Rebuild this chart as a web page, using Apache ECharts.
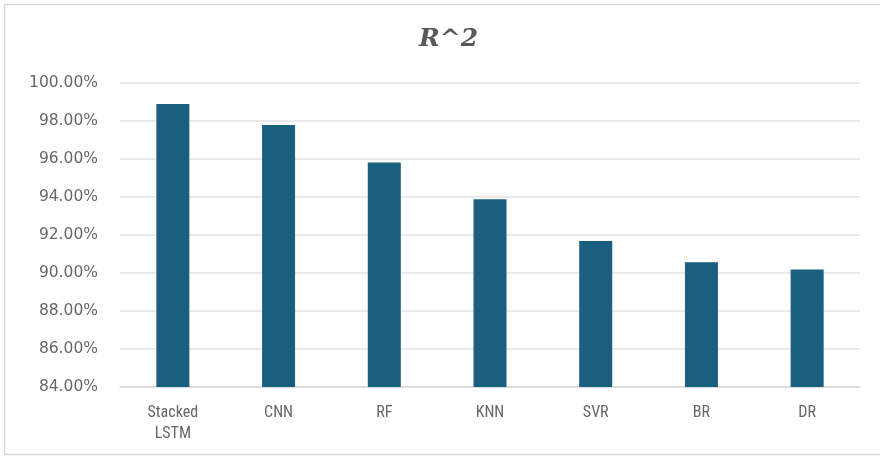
<!DOCTYPE html>
<html>
<head>
<meta charset="utf-8">
<style>
  html, body { margin: 0; padding: 0; background: #ffffff; }
  #chart { width: 880px; height: 458px; }
</style>
<script src="https://cdn.jsdelivr.net/npm/echarts@6/dist/echarts.min.js"></script>
</head>
<body>
<div id="chart"></div>
<script>
// Model names along the x axis
const categories = ['Stacked\nLSTM', 'CNN', 'RF', 'KNN', 'SVR', 'BR', 'DR'];
// R^2 score of each model, in percent
const r2Values = [98.89, 97.79, 95.81, 93.88, 91.68, 90.56, 90.19];
// Value axis range and step, in percent
const yMin = 84;
const yMax = 100;
const yStep = 2;

const chart = echarts.init(document.getElementById('chart'), null, { renderer: 'canvas' });

chart.setOption({
  animation: false,
  backgroundColor: '#ffffff',
  graphic: [{
    type: 'rect',
    shape: { x: 4.5, y: 4.5, width: 880, height: 450 },
    style: { fill: 'none', stroke: '#d9d9d9', lineWidth: 1.5 },
    silent: true
  }],
  title: {
    text: 'R^2',
    left: 414,
    top: 22,
    textStyle: {
      fontFamily: '"DejaVu Serif", "Liberation Serif", serif',
      fontStyle: 'italic',
      fontWeight: 'bold',
      fontSize: 25,
      color: '#595959'
    }
  },
  grid: { left: 120, right: 20, top: 83, bottom: 71, containLabel: false },
  xAxis: {
    type: 'category',
    data: categories,
    axisLine: { lineStyle: { color: '#d9d9d9', width: 1.5 } },
    axisTick: { show: false },
    axisLabel: {
      color: '#666666',
      fontFamily: '"Liberation Sans Narrow", "Roboto Condensed", Roboto, sans-serif',
      fontSize: 16,
      lineHeight: 21,
      margin: 15
    }
  },
  yAxis: {
    type: 'value',
    min: yMin,
    max: yMax,
    interval: yStep,
    axisLine: { show: false },
    axisTick: { show: false },
    splitLine: { lineStyle: { color: '#e3e3e3', width: 1.5 } },
    axisLabel: {
      color: '#666666',
      fontFamily: '"DejaVu Sans", "Noto Sans", sans-serif',
      fontSize: 15.5,
      margin: 22,
      formatter: v => v.toFixed(2) + '%'
    }
  },
  series: [{
    type: 'bar',
    data: r2Values,
    barWidth: 33,
    itemStyle: { color: '#1b5f7f' }
  }]
});
</script>
</body>
</html>
